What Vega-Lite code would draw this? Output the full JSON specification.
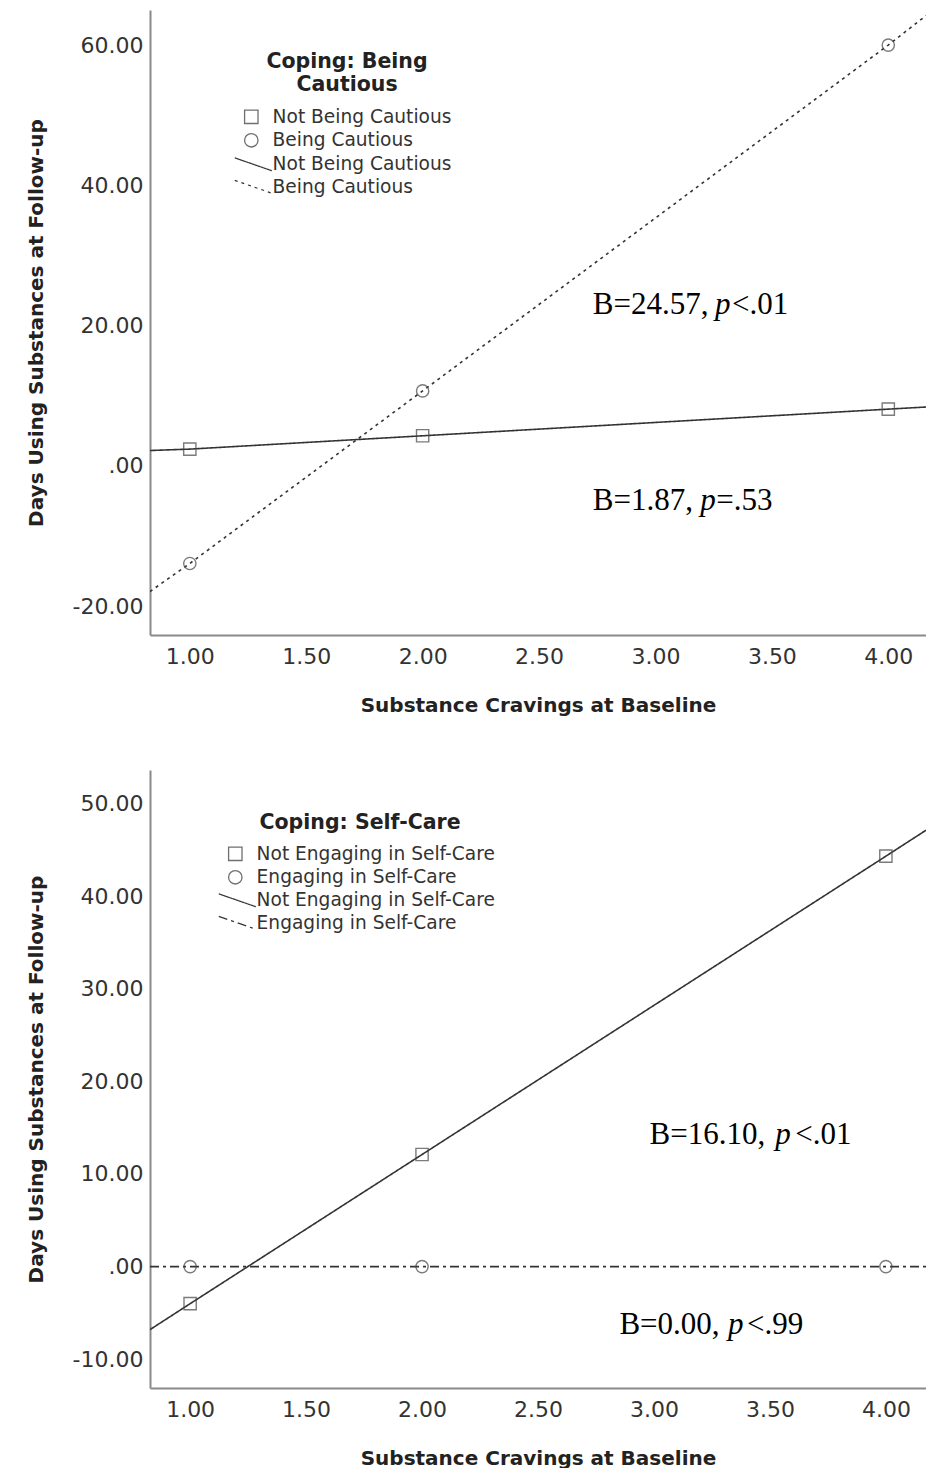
{
  "$schema": "https://vega.github.io/schema/vega-lite/v6.json",
  "padding": {"left": 26, "top": 10, "right": 0, "bottom": 0},
  "background": "white",
  "spacing": 55,
  "config": {
    "view": {"stroke": null},
    "axis": {
      "domainColor": "#8a8a8a", "domainWidth": 2, "ticks": false, "grid": false,
      "labelFont": "DejaVu Sans", "labelFontSize": 22, "labelColor": "#333",
      "titleFont": "DejaVu Sans", "titleFontSize": 20, "titleFontWeight": "bold", "titleColor": "#222"
    },
    "axisX": {"labelPadding": 11, "titlePadding": 28},
    "axisY": {"labelPadding": 7, "titlePadding": 26},
    "legend": {
      "labelFont": "DejaVu Sans", "labelFontSize": 18.6, "labelColor": "#333", "labelLimit": 400,
      "titleFont": "DejaVu Sans", "titleFontSize": 20.5, "titleFontWeight": "bold", "titleColor": "#222",
      "titleLimit": 400, "padding": 0, "rowPadding": 3.5
    }
  },
  "resolve": {
    "scale": {"x": "independent", "y": "independent", "shape": "independent", "strokeDash": "independent"},
    "legend": {"shape": "independent", "strokeDash": "independent"}
  },
  "vconcat": [
    {
      "width": 776,
      "height": 625,
      "encoding": {
        "x": {"field": "x", "type": "quantitative",
          "scale": {"domain": [0.829, 4.162], "nice": false, "zero": false},
          "axis": {"values": [1, 1.5, 2, 2.5, 3, 3.5, 4], "format": ".2f", "title": "Substance Cravings at Baseline"}},
        "y": {"field": "y", "type": "quantitative",
          "scale": {"domain": [-24.1, 65], "nice": false, "zero": false},
          "axis": {"values": [-20, 0, 20, 40, 60], "labelExpr": "datum.value == 0 ? '.00' : replace(format(datum.value, '.2f'), '\u2212', '-')", "title": "Days Using Substances at Follow-up"}}
      },
      "layer": [
        {
          "data": {"values": [
            {"x": 0.829, "y": 2.2, "fit": "Not Being Cautious (fit)"},
            {"x": 1, "y": 2.4, "fit": "Not Being Cautious (fit)"},
            {"x": 2, "y": 4.3, "fit": "Not Being Cautious (fit)"},
            {"x": 4, "y": 8.1, "fit": "Not Being Cautious (fit)"},
            {"x": 4.162, "y": 8.4, "fit": "Not Being Cautious (fit)"},
            {"x": 0.829, "y": -17.9, "fit": "Being Cautious (fit)"},
            {"x": 1, "y": -13.9, "fit": "Being Cautious (fit)"},
            {"x": 2, "y": 10.7, "fit": "Being Cautious (fit)"},
            {"x": 4, "y": 60.0, "fit": "Being Cautious (fit)"},
            {"x": 4.162, "y": 64.2, "fit": "Being Cautious (fit)"}
          ]},
          "mark": {"type": "line", "color": "#333", "strokeWidth": 1.6, "clip": true},
          "encoding": {
            "strokeDash": {"field": "fit", "type": "nominal",
              "scale": {"domain": ["Not Being Cautious (fit)", "Being Cautious (fit)"], "range": [[1, 0], [3, 4]]},
              "legend": {"title": null, "orient": "none", "legendX": 94, "legendY": 145,
                "labelExpr": "replace(datum.label, ' (fit)', '')",
                "symbolType": "M-2.47,-0.86L2.47,0.86", "symbolSize": 225, "symbolStrokeColor": "#333",
                "symbolStrokeWidth": 1.2, "labelOffset": 10}}
          }
        },
        {
          "data": {"values": [
            {"x": 1, "y": 2.4, "marker": "Not Being Cautious"},
            {"x": 2, "y": 4.3, "marker": "Not Being Cautious"},
            {"x": 4, "y": 8.1, "marker": "Not Being Cautious"},
            {"x": 1, "y": -13.9, "marker": "Being Cautious"},
            {"x": 2, "y": 10.7, "marker": "Being Cautious"},
            {"x": 4, "y": 60.0, "marker": "Being Cautious"}
          ]},
          "mark": {"type": "point", "filled": false, "size": 150, "strokeWidth": 1.4, "color": "#444"},
          "encoding": {
            "shape": {"field": "marker", "type": "nominal",
              "scale": {"domain": ["Not Being Cautious", "Being Cautious"], "range": ["square", "circle"]},
              "legend": {"title": ["Coping: Being", "Cautious"], "orient": "none", "legendX": 92, "legendY": 42,
                "titleAnchor": "middle", "titleAlign": "center", "titleLineHeight": 23, "titlePadding": 12,
                "symbolSize": 180, "symbolStrokeColor": "#333", "symbolStrokeWidth": 1.3, "labelOffset": 12}}
          }
        },
        {
          "data": {"values": [
            {"x": 2.731, "y": 22.9, "t": "B=24.57,"},
            {"x": 3.329, "y": 22.9, "t": "<.01"},
            {"x": 2.731, "y": -5.0, "t": "B=1.87,"},
            {"x": 3.261, "y": -5.0, "t": "=.53"}
          ]},
          "mark": {"type": "text", "font": "Liberation Serif", "fontSize": 31, "align": "left", "baseline": "middle", "color": "#000"},
          "encoding": {"text": {"field": "t"}}
        },
        {
          "data": {"values": [
            {"x": 3.256, "y": 22.9, "t": "p"},
            {"x": 3.192, "y": -5.0, "t": "p"}
          ]},
          "mark": {"type": "text", "font": "Liberation Serif", "fontStyle": "italic", "fontSize": 31, "align": "left", "baseline": "middle", "color": "#000"},
          "encoding": {"text": {"field": "t"}}
        }
      ]
    },
    {
      "width": 776,
      "height": 618,
      "encoding": {
        "x": {"field": "x", "type": "quantitative",
          "scale": {"domain": [0.827, 4.173], "nice": false, "zero": false},
          "axis": {"values": [1, 1.5, 2, 2.5, 3, 3.5, 4], "format": ".2f", "title": "Substance Cravings at Baseline"}},
        "y": {"field": "y", "type": "quantitative",
          "scale": {"domain": [-13.1, 53.6], "nice": false, "zero": false},
          "axis": {"values": [-10, 0, 10, 20, 30, 40, 50], "labelExpr": "datum.value == 0 ? '.00' : replace(format(datum.value, '.2f'), '\u2212', '-')", "title": "Days Using Substances at Follow-up"}}
      },
      "layer": [
        {
          "data": {"values": [
            {"x": 0.827, "y": -6.8, "fit": "Not Engaging in Self-Care (fit)"},
            {"x": 1, "y": -4.0, "fit": "Not Engaging in Self-Care (fit)"},
            {"x": 2, "y": 12.1, "fit": "Not Engaging in Self-Care (fit)"},
            {"x": 4, "y": 44.3, "fit": "Not Engaging in Self-Care (fit)"},
            {"x": 4.173, "y": 47.1, "fit": "Not Engaging in Self-Care (fit)"},
            {"x": 0.827, "y": 0, "fit": "Engaging in Self-Care (fit)"},
            {"x": 1, "y": 0, "fit": "Engaging in Self-Care (fit)"},
            {"x": 2, "y": 0, "fit": "Engaging in Self-Care (fit)"},
            {"x": 4, "y": 0, "fit": "Engaging in Self-Care (fit)"},
            {"x": 4.173, "y": 0, "fit": "Engaging in Self-Care (fit)"}
          ]},
          "mark": {"type": "line", "color": "#333", "strokeWidth": 1.6, "clip": true},
          "encoding": {
            "strokeDash": {"field": "fit", "type": "nominal",
              "scale": {"domain": ["Not Engaging in Self-Care (fit)", "Engaging in Self-Care (fit)"], "range": [[1, 0], [9, 4, 3, 4]]},
              "legend": {"title": null, "orient": "none", "legendX": 78, "legendY": 121,
                "labelExpr": "replace(datum.label, ' (fit)', '')",
                "symbolType": "M-2.47,-0.86L2.47,0.86", "symbolSize": 225, "symbolStrokeColor": "#333",
                "symbolStrokeWidth": 1.2, "labelOffset": 10}}
          }
        },
        {
          "data": {"values": [
            {"x": 1, "y": -4.0, "marker": "Not Engaging in Self-Care"},
            {"x": 2, "y": 12.1, "marker": "Not Engaging in Self-Care"},
            {"x": 4, "y": 44.3, "marker": "Not Engaging in Self-Care"},
            {"x": 1, "y": 0, "marker": "Engaging in Self-Care"},
            {"x": 2, "y": 0, "marker": "Engaging in Self-Care"},
            {"x": 4, "y": 0, "marker": "Engaging in Self-Care"}
          ]},
          "mark": {"type": "point", "filled": false, "size": 150, "strokeWidth": 1.4, "color": "#444"},
          "encoding": {
            "shape": {"field": "marker", "type": "nominal",
              "scale": {"domain": ["Not Engaging in Self-Care", "Engaging in Self-Care"], "range": ["square", "circle"]},
              "legend": {"title": "Coping: Self-Care", "orient": "none", "legendX": 76, "legendY": 43,
                "titleAnchor": "middle", "titleAlign": "center", "titleLineHeight": 23, "titlePadding": 11,
                "symbolSize": 180, "symbolStrokeColor": "#333", "symbolStrokeWidth": 1.3, "labelOffset": 12}}
          }
        },
        {
          "data": {"values": [
            {"x": 2.981, "y": 14.2, "t": "B=16.10,"},
            {"x": 3.609, "y": 14.2, "t": "<.01"},
            {"x": 2.851, "y": -6.26, "t": "B=0.00,"},
            {"x": 3.401, "y": -6.26, "t": "<.99"}
          ]},
          "mark": {"type": "text", "font": "Liberation Serif", "fontSize": 31, "align": "left", "baseline": "middle", "color": "#000"},
          "encoding": {"text": {"field": "t"}}
        },
        {
          "data": {"values": [
            {"x": 3.523, "y": 14.2, "t": "p"},
            {"x": 3.319, "y": -6.26, "t": "p"}
          ]},
          "mark": {"type": "text", "font": "Liberation Serif", "fontStyle": "italic", "fontSize": 31, "align": "left", "baseline": "middle", "color": "#000"},
          "encoding": {"text": {"field": "t"}}
        }
      ]
    }
  ]
}
